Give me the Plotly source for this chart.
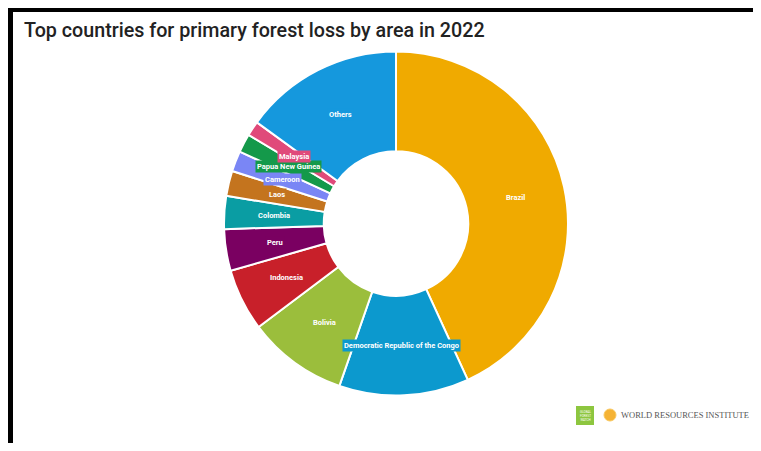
import math
import plotly.graph_objects as go

# Page body has an 8px margin, so the figure is drawn inside it
W, H = 761, 451
OFF = 8
FW, FH = W - 2 * OFF, H - 2 * OFF

countries = ["Brazil", "Democratic Republic of the Congo", "Bolivia", "Indonesia", "Peru",
             "Colombia", "Laos", "Cameroon", "Papua New Guinea", "Malaysia", "Others"]
loss_mha = [1.77, 0.50, 0.385, 0.24, 0.16, 0.127, 0.097, 0.079, 0.072, 0.057, 0.615]
colors = ["#F0AA00", "#0C99CE", "#9BBE3C", "#C8202A", "#7A0061", "#0A9DA3",
          "#C4741E", "#7A86F5", "#14994A", "#E04A7A", "#1598DD"]


def px_x(x):
    return (x - OFF) / FW


def px_y(y):
    return 1 - (y - OFF) / FH


cx, cy, r = 396, 223.5, 172
hole = 0.42

fig = go.Figure(go.Pie(
    labels=countries,
    values=loss_mha,
    sort=False,
    direction="clockwise",
    rotation=0,
    hole=hole,
    marker=dict(colors=colors, line=dict(color="white", width=2)),
    textinfo="none",
    hoverinfo="label+value",
    showlegend=False,
    domain=dict(x=[px_x(cx - r), px_x(cx + r)], y=[px_y(cy + r), px_y(cy - r)]),
))

# Slice labels placed on each slice's bisector at mid-ring radius
annotations = []
total = sum(loss_mha)
cum = 0.0
rl = (hole * r + r) / 2
for name, v, c in zip(countries, loss_mha, colors):
    mid = math.radians((cum + v / 2) / total * 360)
    cum += v
    lx = cx + rl * math.sin(mid)
    ly = cy - rl * math.cos(mid)
    annotations.append(dict(
        text=name, x=px_x(lx), y=px_y(ly), xref="paper", yref="paper",
        xanchor="center", yanchor="middle", showarrow=False,
        bgcolor=c, borderpad=1,
        font=dict(family="Roboto", size=7.5, color="white", weight="bold"),
    ))

shapes = [
    # black frame (left and top)
    dict(type="rect", xref="paper", yref="paper", x0=0, x1=px_x(13), y0=0, y1=1,
         fillcolor="black", line=dict(width=0), layer="above"),
    dict(type="rect", xref="paper", yref="paper", x0=0, x1=1, y0=px_y(12), y1=1,
         fillcolor="black", line=dict(width=0), layer="above"),
    # Global Forest Watch badge
    dict(type="rect", xref="paper", yref="paper", x0=px_x(576), x1=px_x(594), y0=px_y(425), y1=px_y(406),
         fillcolor="#8DC63F", line=dict(width=0)),
    # WRI icon
    dict(type="circle", xref="paper", yref="paper", x0=px_x(604), x1=px_x(616), y0=px_y(421), y1=px_y(409),
         fillcolor="#F5B335", line=dict(color="#F8C860", width=1)),
]

annotations += [
    dict(text="Top countries for primary forest loss by area in 2022", x=px_x(22), y=px_y(31),
         xref="paper", yref="paper", xanchor="left", yanchor="middle", showarrow=False,
         font=dict(family="Roboto", size=19.7, color="#222222", weight=500)),
    dict(text="GLOBAL<br>FOREST<br>WATCH", x=px_x(585), y=px_y(415.5), xref="paper", yref="paper",
         xanchor="center", yanchor="middle", showarrow=False,
         font=dict(family="Roboto", size=3, color="white")),
    dict(text="WORLD RESOURCES INSTITUTE", x=px_x(619), y=px_y(415), xref="paper", yref="paper",
         xanchor="left", yanchor="middle", showarrow=False,
         font=dict(family="Liberation Serif", size=8.5, color="#555555")),
]

fig.update_layout(
    width=FW, height=FH,
    margin=dict(l=0, r=0, t=0, b=0),
    paper_bgcolor="white",
    plot_bgcolor="white",
    shapes=shapes,
    annotations=annotations,
)

fig.write_html("out.html", config={"displayModeBar": False})
